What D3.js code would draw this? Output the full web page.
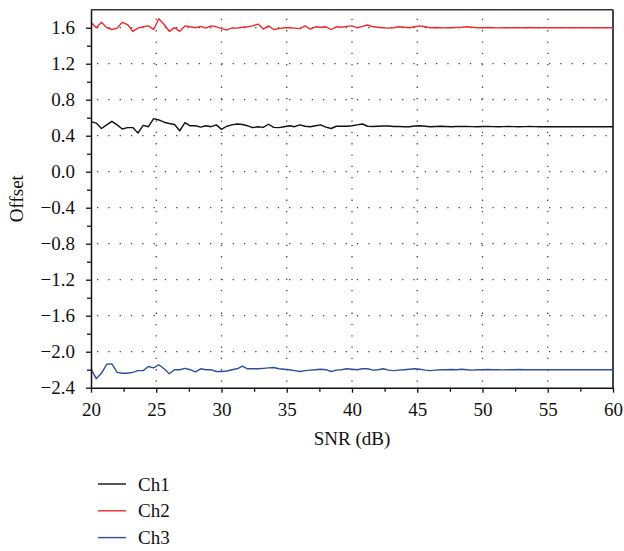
<!DOCTYPE html>
<html>
<head>
<meta charset="utf-8">
<script src="https://cdn.jsdelivr.net/npm/d3@7"></script>
<style>
  body { margin: 0; background: #fff; }
</style>
</head>
<body>
<svg id="chart" width="624" height="551"></svg>
<script>
// SNR sampling grid (dB), 0.4 dB steps
const snr = d3.range(0, 101).map((i) => +(20 + i * 0.4).toFixed(1));

const ch1 = [
  0.556, 0.54, 0.48, 0.52, 0.56, 0.52, 0.475, 0.49, 0.49, 0.43,
  0.515, 0.50, 0.59, 0.575, 0.55, 0.535, 0.525, 0.455, 0.545, 0.51,
  0.51, 0.495, 0.51, 0.50, 0.52, 0.47, 0.505, 0.52, 0.53, 0.525,
  0.51, 0.49, 0.50, 0.493, 0.527, 0.493, 0.49, 0.50, 0.51, 0.50,
  0.52, 0.505, 0.50, 0.51, 0.52, 0.495, 0.48, 0.505, 0.505, 0.505,
  0.51, 0.52, 0.53, 0.505, 0.503, 0.505, 0.508, 0.507, 0.503, 0.502,
  0.50, 0.50, 0.508, 0.51, 0.505, 0.50, 0.502, 0.505, 0.503, 0.50,
  0.502, 0.504, 0.503, 0.501, 0.50, 0.502, 0.503, 0.501, 0.50, 0.501,
  0.502, 0.501, 0.50, 0.501, 0.502, 0.501, 0.50, 0.50, 0.501, 0.50,
  0.50, 0.501, 0.50, 0.50, 0.50, 0.501, 0.50, 0.50, 0.50, 0.50,
  0.50
];

const ch2 = [
  1.66, 1.60, 1.66, 1.60, 1.58, 1.595, 1.66, 1.635, 1.56, 1.595,
  1.61, 1.62, 1.58, 1.70, 1.635, 1.56, 1.60, 1.56, 1.62, 1.61,
  1.60, 1.615, 1.595, 1.62, 1.61, 1.59, 1.575, 1.595, 1.595, 1.605,
  1.61, 1.62, 1.64, 1.585, 1.62, 1.58, 1.59, 1.60, 1.60, 1.595,
  1.59, 1.62, 1.585, 1.61, 1.605, 1.61, 1.58, 1.61, 1.605, 1.615,
  1.62, 1.60, 1.615, 1.63, 1.61, 1.605, 1.60, 1.595, 1.60, 1.61,
  1.605, 1.60, 1.61, 1.62, 1.61, 1.60, 1.602, 1.60, 1.598, 1.60,
  1.603, 1.605, 1.61, 1.605, 1.60, 1.60, 1.602, 1.60, 1.598, 1.60,
  1.60, 1.601, 1.60, 1.60, 1.602, 1.60, 1.60, 1.60, 1.601, 1.60,
  1.60, 1.60, 1.60, 1.601, 1.60, 1.60, 1.60, 1.60, 1.60, 1.60,
  1.60
];

const ch3 = [
  -2.19, -2.30, -2.24, -2.14, -2.135, -2.23, -2.24, -2.24, -2.23, -2.21,
  -2.21, -2.165, -2.18, -2.145, -2.19, -2.245, -2.20, -2.20, -2.185, -2.20,
  -2.225, -2.19, -2.20, -2.20, -2.22, -2.22, -2.215, -2.20, -2.19, -2.16,
  -2.19, -2.19, -2.19, -2.185, -2.18, -2.175, -2.19, -2.195, -2.20, -2.21,
  -2.22, -2.21, -2.205, -2.20, -2.195, -2.20, -2.22, -2.205, -2.20, -2.19,
  -2.195, -2.20, -2.19, -2.19, -2.205, -2.20, -2.19, -2.205, -2.21, -2.205,
  -2.20, -2.195, -2.19, -2.195, -2.205, -2.21, -2.205, -2.20, -2.20, -2.198,
  -2.20, -2.195, -2.20, -2.205, -2.20, -2.20, -2.198, -2.20, -2.20, -2.202,
  -2.20, -2.20, -2.198, -2.20, -2.20, -2.20, -2.201, -2.20, -2.20, -2.20,
  -2.20, -2.199, -2.20, -2.20, -2.20, -2.20, -2.20, -2.20, -2.20, -2.20,
  -2.20
];

const seriesNames = ["Ch1", "Ch2", "Ch3"];
const seriesColors = ["#111111", "#ee2a2f", "#2f4f9e"];

const xTicks = [20, 25, 30, 35, 40, 45, 50, 55, 60];
const xMinor = [22.5, 27.5, 32.5, 37.5, 42.5, 47.5, 52.5, 57.5];
const yTicks = [-2.4, -2.0, -1.6, -1.2, -0.8, -0.4, 0.0, 0.4, 0.8, 1.2, 1.6];
const yMinor = [-2.2, -1.8, -1.4, -1.0, -0.6, -0.2, 0.2, 0.6, 1.0, 1.4];

const serif = "Liberation Serif";
const fontSize = 19;

const svg = d3.select("#chart");
const m = { left: 91, right: 613, top: 9.7, bottom: 387.7 };

const x = d3.scaleLinear().domain([20, 60]).range([m.left, m.right]);
const y = d3.scaleLinear().domain([-2.4, 1.8]).range([m.bottom, m.top]);

const fmtY = (d) => d3.format(".1f")(d).replace("-", "\u2212");

// dotted grid
const grid = svg.append("g").attr("class", "grid")
  .attr("stroke", "#444")
  .attr("stroke-width", 1.3)
  .attr("stroke-dasharray", "1.3,10");
grid.selectAll("line.h")
  .data(yTicks.filter((d) => d > -2.4))
  .enter().append("line")
  .attr("class", "h")
  .attr("x1", m.left + 6).attr("x2", m.right)
  .attr("y1", (d) => y(d)).attr("y2", (d) => y(d));
grid.selectAll("line.v")
  .data(xTicks.filter((d) => d > 20 && d < 60))
  .enter().append("line")
  .attr("class", "v")
  .attr("y1", m.bottom - 6).attr("y2", m.top)
  .attr("x1", (d) => x(d)).attr("x2", (d) => x(d));

// frame: top and right
svg.append("line")
  .attr("x1", m.left).attr("x2", m.right)
  .attr("y1", m.top).attr("y2", m.top)
  .attr("stroke", "#333").attr("stroke-width", 1.5);
svg.append("line")
  .attr("x1", m.right).attr("x2", m.right)
  .attr("y1", m.top).attr("y2", m.bottom)
  .attr("stroke", "#444").attr("stroke-width", 2);

// series
const line = d3.line()
  .x((d, i) => x(snr[i]))
  .y((d) => y(d));

const allSeries = [ch1, ch2, ch3];
svg.append("g").selectAll("path")
  .data(allSeries)
  .enter().append("path")
  .attr("d", line)
  .attr("fill", "none")
  .attr("stroke", (d, i) => seriesColors[i])
  .attr("stroke-width", 1.4)
  .attr("stroke-linejoin", "round");

// axes
svg.append("g")
  .attr("transform", `translate(0,${m.bottom})`)
  .call(d3.axisBottom(x).tickValues(xTicks).tickSize(5).tickPadding(10).tickSizeOuter(0));
svg.append("g")
  .attr("transform", `translate(0,${m.bottom})`)
  .call(d3.axisBottom(x).tickValues(xMinor).tickSize(4).tickFormat("").tickSizeOuter(0))
  .select(".domain").remove();

svg.append("g")
  .attr("transform", `translate(${m.left},0)`)
  .call(d3.axisLeft(y).tickValues(yTicks).tickSize(5).tickPadding(11).tickFormat(fmtY).tickSizeOuter(0));
svg.append("g")
  .attr("transform", `translate(${m.left},0)`)
  .call(d3.axisLeft(y).tickValues(yMinor).tickSize(4).tickFormat("").tickSizeOuter(0))
  .select(".domain").remove();

svg.selectAll(".domain").attr("stroke", "#111").attr("stroke-width", 1.5);
svg.selectAll(".tick line").attr("stroke", "#111").attr("stroke-width", 1.3);
svg.selectAll(".tick text")
  .style("font-family", serif)
  .style("font-size", fontSize + "px")
  .attr("fill", "#111");

// axis titles
svg.append("text")
  .attr("x", (m.left + m.right) / 2)
  .attr("y", 445)
  .attr("text-anchor", "middle")
  .style("font-family", serif)
  .style("font-size", fontSize + "px")
  .attr("fill", "#111")
  .text("SNR (dB)");

svg.append("text")
  .attr("transform", `translate(23,${(m.top + m.bottom) / 2}) rotate(-90)`)
  .attr("text-anchor", "middle")
  .style("font-family", serif)
  .style("font-size", fontSize + "px")
  .attr("fill", "#111")
  .text("Offset");

// legend
const legend = svg.append("g").selectAll("g")
  .data(seriesNames)
  .enter().append("g")
  .attr("transform", (d, i) => `translate(98,${484 + i * 26.8})`);
legend.append("line")
  .attr("x1", 0).attr("x2", 28)
  .attr("stroke", (d, i) => seriesColors[i])
  .attr("stroke-width", 1.4);
legend.append("text")
  .attr("x", 40)
  .attr("dy", "0.35em")
  .style("font-family", serif)
  .style("font-size", fontSize + "px")
  .attr("fill", "#111")
  .text((d) => d);
</script>
</body>
</html>
